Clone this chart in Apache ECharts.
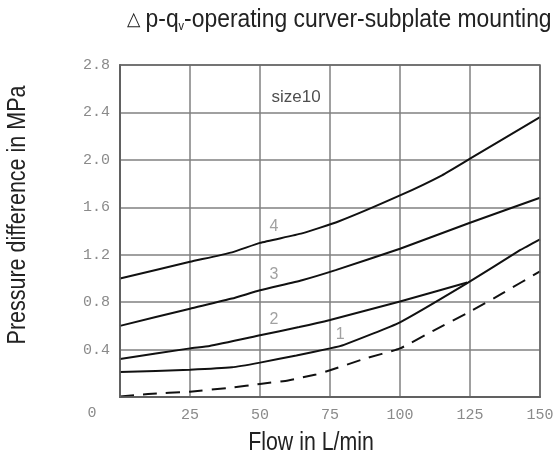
<!DOCTYPE html>
<html>
<head>
<meta charset="utf-8">
<script src="https://cdn.jsdelivr.net/npm/echarts@6/dist/echarts.min.js"></script>
<style>
html,body{margin:0;padding:0;background:#fff;}
#main{width:557px;height:461px;}
</style>
</head>
<body>
<div id="main"></div>
<script>
// ---- data (flow L/min, pressure difference MPa) ----
const xTicks = [0, 25, 50, 75, 100, 125, 150];
const yTicks = [0, 0.4, 0.8, 1.2, 1.6, 2.0, 2.4, 2.8];
const curve4 = [[0,1.00],[25,1.14],[40,1.22],[50,1.30],[65,1.38],[78,1.48],[100,1.70],[115,1.87],[125,2.01],[150,2.36]];
const curve3 = [[0,0.60],[25,0.745],[40,0.83],[50,0.90],[65,0.985],[77,1.07],[100,1.25],[125,1.47],[150,1.68]];
const curve2 = [[0,0.32],[25,0.41],[32,0.43],[50,0.52],[64,0.59],[75,0.65],[100,0.805],[124,0.965]];
const curve1 = [[0,0.21],[25,0.23],[40,0.25],[50,0.29],[63,0.35],[75,0.41],[80,0.44],[100,0.63],[124,0.96],[143,1.24],[150,1.33]];
const curveDashed = [[0,0.005],[10,0.025],[25,0.045],[40,0.08],[50,0.11],[60,0.14],[70,0.19],[75,0.225],[87,0.32],[100,0.41],[112,0.56],[125,0.72],[137,0.88],[150,1.06]];
const curveLabelNames = ['4', '3', '2', '1'];
const curveLabelPos = [[55,1.44],[55,1.035],[55,0.655],[78.6,0.53]];
const sizeLabel = 'size10';
const sizeLabelPos = [62.9, 2.53];
const titleParts = ['△ ', 'p-q', 'v', '-operating curver-subplate mounting'];
const xName = 'Flow in L/min';
const yName = 'Pressure difference in MPa';

const chart = echarts.init(document.getElementById('main'));
const lineColor = '#111';
const gridColor = '#808080';
const tickFont = '"Liberation Mono", "DejaVu Sans Mono", monospace';
const sans = '"Liberation Sans", Arial, sans-serif';

function lineSeries(data, dashed) {
  return {
    type: 'line', data: data, symbol: 'none', smooth: 0.15,
    lineStyle: { color: lineColor, width: 2, type: dashed ? [14, 9] : 'solid' },
    silent: true, z: 3
  };
}

chart.setOption({
  animation: false,
  backgroundColor: '#fff',
  grid: { left: 120, right: 17, top: 65, bottom: 64, containLabel: false, outerBoundsMode: 'none' },
  xAxis: {
    type: 'value', min: xTicks[0], max: xTicks[xTicks.length - 1], interval: 25,
    axisLine: { show: true, lineStyle: { color: '#555', width: 2 } },
    axisTick: { show: false },
    axisLabel: { margin: 11, fontFamily: tickFont, fontSize: 15, color: '#8a8a8a',
      formatter: v => (v === 0 ? '' : String(v)) },
    splitLine: { show: true, lineStyle: { color: gridColor, width: 1.5 } }
  },
  yAxis: {
    type: 'value', min: yTicks[0], max: yTicks[yTicks.length - 1], interval: 0.4,
    axisLine: { show: true, lineStyle: { color: '#555', width: 2 } },
    axisTick: { show: false },
    axisLabel: { margin: 10, fontFamily: tickFont, fontSize: 15, color: '#8a8a8a',
      formatter: v => (v === 0 ? '' : v.toFixed(1)) },
    splitLine: { show: true, lineStyle: { color: gridColor, width: 1.5 } }
  },
  graphic: [
    { type: 'text', x: 127, y: 20, scaleX: 0.915, silent: true,
      style: {
        text: '{a|' + titleParts[0] + '}{b|' + titleParts[1] + '}{s|' + titleParts[2] + '}{b|' + titleParts[3] + '}',
        align: 'left', verticalAlign: 'middle',
        rich: {
          a: { fontFamily: sans, fontSize: 19, fill: '#222' },
          b: { fontFamily: sans, fontSize: 25, fill: '#222' },
          s: { fontFamily: sans, fontSize: 12, fill: '#222', padding: [14, 0, 0, 0] }
        }
      } },
    { type: 'text', x: 311, y: 443, scaleX: 0.82, silent: true,
      style: { text: xName, font: '26px ' + sans, fill: '#222', align: 'center', verticalAlign: 'middle' } },
    { type: 'text', x: 18, y: 215, rotation: Math.PI / 2, scaleX: 0.86, silent: true,
      style: { text: yName, font: '25px ' + sans, fill: '#222', align: 'center', verticalAlign: 'middle' } },
    { type: 'text', x: 92, y: 413, silent: true,
      style: { text: '0', font: '15px "Liberation Mono", monospace', fill: '#8a8a8a', align: 'center', verticalAlign: 'middle' } },
    { type: 'rect', shape: { x: 120, y: 65, width: 420, height: 332 }, style: { fill: 'none', stroke: '#666', lineWidth: 1.5 }, z: 10, silent: true }
  ],
  series: [
    lineSeries(curve4, false),
    lineSeries(curve3, false),
    lineSeries(curve2, false),
    lineSeries(curve1, false),
    lineSeries(curveDashed, true),
    {
      type: 'scatter', symbolSize: 0, silent: true, z: 5,
      data: curveLabelNames.map((n, i) => ({ name: n, value: curveLabelPos[i] })),
      label: { show: true, position: 'inside', formatter: p => p.name,
        fontFamily: sans, fontSize: 16, color: '#8a8a8a' }
    },
    {
      type: 'scatter', symbolSize: 0, silent: true, z: 5,
      data: [{ name: sizeLabel, value: sizeLabelPos }],
      label: { show: true, position: 'inside', formatter: p => p.name,
        fontFamily: sans, fontSize: 17, color: '#222' }
    }
  ]
});
</script>
</body>
</html>
